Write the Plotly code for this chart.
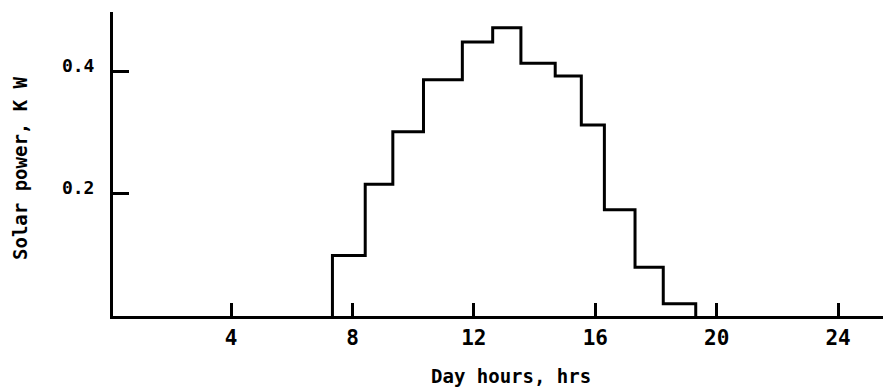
import plotly.graph_objects as go

# Hour boundaries of each step (hrs) and solar power in each interval (kW)
hour_edges = [7.34, 8.42, 9.33, 10.34, 11.62, 12.62, 13.55, 14.68, 15.54, 16.30, 17.31, 18.24, 19.31]
solar_power = [0.099, 0.216, 0.302, 0.387, 0.449, 0.472, 0.414, 0.393, 0.313, 0.174, 0.080, 0.020]

x_tick_vals = [4, 8, 12, 16, 20, 24]
x_tick_text = ["4", "8", "12", "16", "20", "24"]
y_tick_vals = [0.2, 0.4]
y_tick_text = ["0.2", "0.4"]

x_title = "Day hours, hrs"
y_title = "Solar power, K W"

# Step outline: start at zero, climb through each interval, drop back to zero
xs = [hour_edges[0]] + hour_edges[:-1] + [hour_edges[-1], hour_edges[-1]]
ys = [0] + solar_power + [solar_power[-1], 0]

fig = go.Figure()
fig.add_trace(go.Scatter(
    x=xs, y=ys, mode="lines", line_shape="hv",
    line=dict(color="black", width=3), showlegend=False, hoverinfo="skip"))

font_family = "DejaVu Sans Mono"

fig.update_layout(
    width=883, height=390,
    margin=dict(l=113, r=0, t=12, b=74),
    paper_bgcolor="white", plot_bgcolor="white",
    font=dict(family=font_family, color="black"),
    xaxis=dict(range=[0.11, 25.48], showgrid=False, zeroline=False,
               showline=True, linecolor="black", linewidth=3,
               ticks="inside", ticklen=13, tickwidth=3, tickcolor="black",
               tickvals=x_tick_vals,
               ticktext=["<b>%s</b>" % t for t in x_tick_text],
               tickfont=dict(family=font_family, size=21, color="black"),
               ticklabelstandoff=1),
    yaxis=dict(range=[0, 0.498], showgrid=False, zeroline=False,
               showline=True, linecolor="black", linewidth=3,
               ticks="inside", ticklen=16, tickwidth=3, tickcolor="black",
               tickvals=y_tick_vals,
               ticktext=["<b>%s</b>" % t for t in y_tick_text],
               tickfont=dict(family=font_family, size=18, color="black"),
               ticklabelstandoff=12, ticklabelshift=-6),
    annotations=[
        dict(text="<b>%s</b>" % x_title, xref="paper", yref="paper",
             x=(511 - 113) / 770, y=-(376 - 316) / 304, xanchor="center", yanchor="middle",
             showarrow=False, font=dict(family=font_family, size=19, color="black")),
        dict(text="<b>%s</b>" % y_title, xref="paper", yref="paper",
             x=-(113 - 20) / 770, y=(316 - 168) / 304, xanchor="center", yanchor="middle",
             textangle=-90, showarrow=False,
             font=dict(family=font_family, size=19, color="black")),
    ],
)

fig.write_html("out.html", config={"displayModeBar": False},
               post_script="document.body.style.margin='0px';")
